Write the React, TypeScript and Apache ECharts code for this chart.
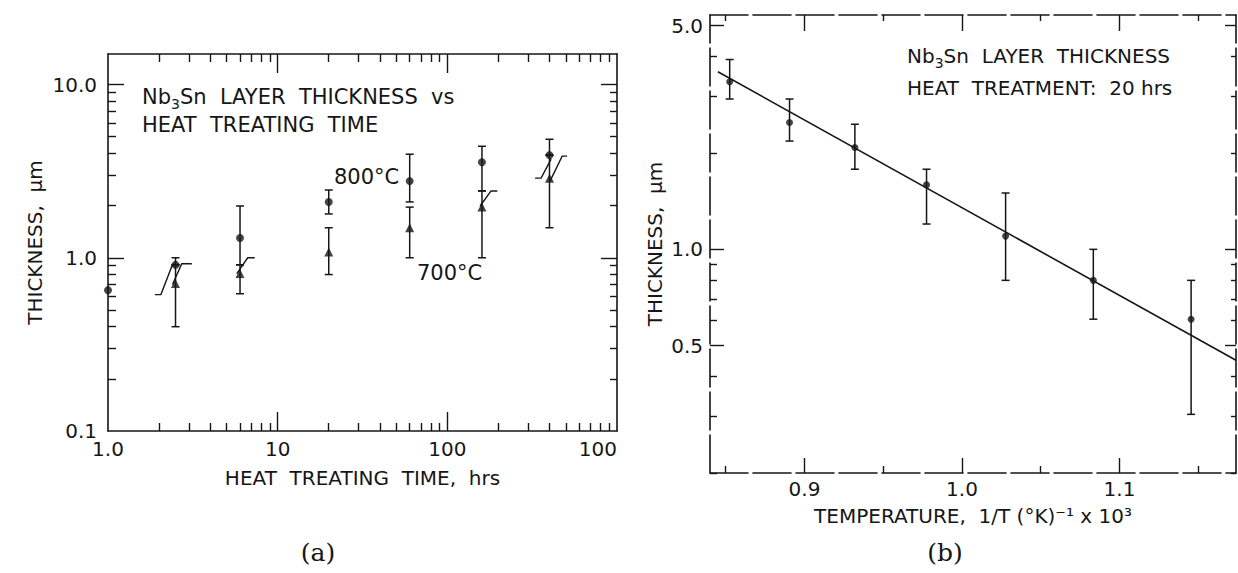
import React, { useEffect, useRef } from "react";
import * as echarts from "echarts";

// ---------- Panel (a): thickness vs heat treating time ----------
const timeTicksMajor = [1, 10, 100, 1000];
const timeTickLabels = ["1.0", "10", "100", "100"];
const timeTicksMinor = [2, 3, 4, 5, 6, 7, 8, 9, 20, 30, 40, 50, 60, 70, 80, 90, 200, 300, 400, 500, 600, 700, 800, 900];
const thickTicksMajorA = [0.1, 1, 10];
const thickTickLabelsA = ["0.1", "1.0", "10.0"];
const thickTicksMinorA = [0.2, 0.3, 0.4, 0.5, 0.6, 0.7, 0.8, 0.9, 2, 3, 4, 5, 6, 7, 8, 9];

const hours800 = [1, 2.5, 6, 20, 60, 160, 400];
const thick800 = [0.65, 0.91, 1.3, 2.1, 2.77, 3.56, 3.91];
const err800Lo = [null, 0.91, 0.91, 1.79, 2.1, 2.43, 3.91];
const err800Hi = [null, 1.0, 1.99, 2.46, 3.96, 4.4, 4.83];

const hours700 = [2.5, 6, 20, 60, 160, 400];
const thick700 = [0.71, 0.81, 1.08, 1.49, 1.96, 2.88];
const err700Lo = [0.4, 0.62, 0.8, 1.0, 1.0, 1.49];
const err700Hi = [0.91, 0.91, 1.49, 1.96, 2.43, 3.91];

// "/" break marks drawn next to some points: [x1, y1, x2, y2, x3, y3]
const slashMarks = [
  [1.89, 0.613, 2.05, 0.613, 2.41, 0.924],
  [2.4, 0.7, 2.72, 0.924, 3.12, 0.924],
  [5.74, 0.81, 6.66, 1.0, 7.32, 1.0],
  [156, 1.99, 181, 2.43, 197, 2.43],
  [329, 2.88, 357, 2.88, 409, 3.71],
  [403, 2.77, 475, 3.86, 508, 3.86],
];

// ---------- Panel (b): thickness vs 1/T ----------
const invTemp = [0.8525, 0.8905, 0.932, 0.9775, 1.0277, 1.0834, 1.1455];
const thickB = [3.34, 2.49, 2.08, 1.59, 1.1, 0.8, 0.605];
const errBLo = [2.95, 2.18, 1.78, 1.2, 0.8, 0.605, 0.305];
const errBHi = [3.92, 2.95, 2.46, 1.78, 1.5, 1.0, 0.8];
const fitX = [0.845, 1.174];
const fitY = [3.59, 0.45];
const invTempTicksMajor = [0.9, 1.0, 1.1];
const invTempTickLabels = ["0.9", "1.0", "1.1"];
const invTempTicksMinor = [0.85, 0.95, 1.05, 1.15];
const thickTicksMajorB = [0.5, 1, 5];
const thickTickLabelsB = ["0.5", "1.0", "5.0"];
const thickTicksMinorB = [0.2, 0.3, 0.4, 0.6, 0.7, 0.8, 0.9, 2, 3, 4];

const INK = "#161616";
const FF = "DejaVu Sans";

function labeller(values: number[], labels: string[]) {
  return (v: number) => {
    let best = 0;
    let bd = Infinity;
    values.forEach((t, i) => {
      const d = Math.abs(Math.log(v) - Math.log(t));
      if (d < bd) {
        bd = d;
        best = i;
      }
    });
    return bd < 0.01 ? labels[best] : "";
  };
}

function axis(
  dim: "x" | "y",
  grid: number,
  type: "log" | "value",
  min: number,
  max: number,
  position: string,
  ticks: number[],
  tickLen: number,
  showLine: boolean,
  dashed: boolean,
  labels?: { values: number[]; texts: string[]; margin: number; extra?: any },
  name?: { text: string; gap: number }
) {
  const a: any = {
    gridIndex: grid,
    type,
    min,
    max,
    position,
    splitLine: { show: false },
    axisLine: {
      show: showLine,
      onZero: false,
      lineStyle: { color: INK, width: 1.6, type: dashed ? [38, 5] : "solid" },
    },
    axisTick: {
      show: true,
      inside: true,
      length: tickLen,
      customValues: ticks,
      lineStyle: { color: INK, width: 1.4 },
    },
    axisLabel: { show: false },
  };
  if (labels) {
    a.axisLabel = {
      show: true,
      customValues: labels.values,
      formatter: labeller(labels.values, labels.texts),
      color: INK,
      fontSize: 20,
      fontFamily: FF,
      margin: labels.margin,
      ...(labels.extra || {}),
    };
  }
  if (name) {
    a.name = name.text;
    a.nameLocation = "middle";
    a.nameGap = name.gap;
    a.nameTextStyle = { color: INK, fontSize: 20, fontFamily: FF };
  }
  return a;
}

function errorBarSeries(xi: number, yi: number, rows: number[][], half: number) {
  return {
    type: "custom",
    xAxisIndex: xi,
    yAxisIndex: yi,
    data: rows,
    encode: { x: 0, y: [1, 2] },
    z: 2,
    silent: true,
    renderItem: (_p: any, api: any) => {
      const x = api.value(0);
      const lo = api.coord([x, api.value(1)]);
      const hi = api.coord([x, api.value(2)]);
      const st = { stroke: INK, lineWidth: 1.5 };
      return {
        type: "group",
        children: [
          { type: "line", shape: { x1: lo[0], y1: lo[1], x2: hi[0], y2: hi[1] }, style: st },
          { type: "line", shape: { x1: lo[0] - half, y1: lo[1], x2: lo[0] + half, y2: lo[1] }, style: st },
          { type: "line", shape: { x1: hi[0] - half, y1: hi[1], x2: hi[0] + half, y2: hi[1] }, style: st },
        ],
      };
    },
  };
}

function zip(a: number[], b: number[]) {
  return a.map((v, i) => [v, b[i]]);
}

export default function App() {
  const ref = useRef<HTMLDivElement>(null);
  useEffect(() => {
    if (!ref.current) return;
    const chart = echarts.init(ref.current, undefined, { renderer: "svg" });

    const rows800 = hours800
      .map((h, i) => (err800Lo[i] == null ? null : [h, err800Lo[i] as number, err800Hi[i] as number]))
      .filter((r) => r) as number[][];
    const rows700 = hours700.map((h, i) => [h, err700Lo[i], err700Hi[i]]);
    const rowsB = invTemp.map((t, i) => [t, errBLo[i], errBHi[i]]);

    const sub = { fontSize: 14, fontFamily: FF, fill: INK, verticalAlign: "bottom", lineHeight: 13 };

    const option: any = {
      animation: false,
      backgroundColor: "#ffffff",
      grid: [
        { left: 108, top: 54, width: 509, height: 377 },
        { left: 710, top: 15, width: 526, height: 458 },
      ],
      xAxis: [
        axis("x", 0, "log", 1, 1000, "bottom", [10, 100], 19, true, false,
          { values: timeTicksMajor, texts: timeTickLabels, margin: 8, extra: { alignMaxLabel: "right" } },
          { text: "HEAT  TREATING  TIME,  hrs", gap: 37 }),
        axis("x", 0, "log", 1, 1000, "bottom", timeTicksMinor, 8, false, false),
        axis("x", 0, "log", 1, 1000, "top", [10, 100], 19, true, false),
        axis("x", 0, "log", 1, 1000, "top", timeTicksMinor, 8, false, false),
        axis("x", 1, "value", 0.84, 1.174, "bottom", invTempTicksMajor, 15, true, true,
          { values: invTempTicksMajor, texts: invTempTickLabels, margin: 6 },
          { text: "TEMPERATURE,  1/T (°K)⁻¹ x 10³", gap: 33 }),
        axis("x", 1, "value", 0.84, 1.174, "bottom", invTempTicksMinor, 7, false, false),
        axis("x", 1, "value", 0.84, 1.174, "top", invTempTicksMajor, 16, true, true),
        axis("x", 1, "value", 0.84, 1.174, "top", invTempTicksMinor, 6, false, false),
      ],
      yAxis: [
        axis("y", 0, "log", 0.1, 15, "left", [1, 10], 16, true, false,
          { values: thickTicksMajorA, texts: thickTickLabelsA, margin: 11 },
          { text: "THICKNESS,  μm", gap: 63 }),
        axis("y", 0, "log", 0.1, 15, "left", thickTicksMinorA, 8, false, false),
        axis("y", 0, "log", 0.1, 15, "right", [1, 10], 16, true, false),
        axis("y", 0, "log", 0.1, 15, "right", thickTicksMinorA, 7, false, false),
        axis("y", 1, "log", 0.2, 5.4, "left", thickTicksMajorB, 14, true, true,
          { values: thickTicksMajorB, texts: thickTickLabelsB, margin: 7 },
          { text: "THICKNESS,  μm", gap: 45 }),
        axis("y", 1, "log", 0.2, 5.4, "left", thickTicksMinorB, 7, false, false),
        axis("y", 1, "log", 0.2, 5.4, "right", thickTicksMajorB, 11, true, true),
        axis("y", 1, "log", 0.2, 5.4, "right", thickTicksMinorB, 5, false, false),
      ],
      series: [
        errorBarSeries(0, 0, rows800, 4),
        errorBarSeries(0, 0, rows700, 4),
        {
          type: "custom",
          xAxisIndex: 0,
          yAxisIndex: 0,
          data: slashMarks,
          encode: { x: [0, 2, 4], y: [1, 3, 5] },
          silent: true,
          renderItem: (_p: any, api: any) => {
            const pts = [0, 2, 4].map((k) => api.coord([api.value(k), api.value(k + 1)]));
            return { type: "polyline", shape: { points: pts }, style: { stroke: INK, lineWidth: 1.4, fill: "none" } };
          },
        },
        {
          type: "scatter",
          xAxisIndex: 0,
          yAxisIndex: 0,
          data: zip(hours800, thick800),
          symbol: "circle",
          symbolSize: 8,
          itemStyle: { color: INK },
          z: 3,
        },
        {
          type: "scatter",
          xAxisIndex: 0,
          yAxisIndex: 0,
          data: zip(hours700, thick700),
          symbol: "triangle",
          symbolSize: 9,
          itemStyle: { color: INK },
          z: 3,
        },
        errorBarSeries(4, 4, rowsB, 4),
        {
          type: "line",
          xAxisIndex: 4,
          yAxisIndex: 4,
          data: zip(fitX, fitY),
          showSymbol: false,
          symbol: "none",
          lineStyle: { color: INK, width: 1.6 },
          z: 2,
        },
        {
          type: "scatter",
          xAxisIndex: 4,
          yAxisIndex: 4,
          data: zip(invTemp, thickB),
          symbol: "circle",
          symbolSize: 7,
          itemStyle: { color: INK },
          z: 3,
        },
      ],
      graphic: [
        {
          type: "text",
          x: 142,
          y: 97,
          style: {
            text: "Nb{s|3}Sn  LAYER  THICKNESS  vs",
            rich: { s: sub },
            fontSize: 21,
            fontFamily: FF,
            fill: INK,
            lineHeight: 28,
            align: "left",
            verticalAlign: "middle",
          },
        },
        {
          type: "text",
          x: 142,
          y: 125,
          style: { text: "HEAT  TREATING  TIME", fontSize: 21, fontFamily: FF, fill: INK, align: "left", verticalAlign: "middle" },
        },
        {
          type: "text",
          x: 334,
          y: 177,
          style: { text: "800°C", fontSize: 21, fontFamily: FF, fill: INK, align: "left", verticalAlign: "middle" },
        },
        {
          type: "text",
          x: 417,
          y: 273,
          style: { text: "700°C", fontSize: 21, fontFamily: FF, fill: INK, align: "left", verticalAlign: "middle" },
        },
        {
          type: "text",
          x: 907,
          y: 56,
          style: {
            text: "Nb{s|3}Sn  LAYER  THICKNESS",
            rich: { s: sub },
            fontSize: 20,
            fontFamily: FF,
            fill: INK,
            lineHeight: 28,
            align: "left",
            verticalAlign: "middle",
          },
        },
        {
          type: "text",
          x: 907,
          y: 88,
          style: { text: "HEAT  TREATMENT:  20 hrs", fontSize: 20, fontFamily: FF, fill: INK, align: "left", verticalAlign: "middle" },
        },
        {
          type: "text",
          x: 318,
          y: 552,
          style: { text: "(a)", fontSize: 25, fontFamily: "DejaVu Serif", fill: INK, align: "center", verticalAlign: "middle" },
        },
        {
          type: "text",
          x: 945,
          y: 552,
          style: { text: "(b)", fontSize: 25, fontFamily: "DejaVu Serif", fill: INK, align: "center", verticalAlign: "middle" },
        },
      ],
    };
    chart.setOption(option);
    return () => chart.dispose();
  }, []);
  return (
    <div
      ref={ref}
      style={{ position: "absolute", left: 0, top: 0, width: 1238, height: 573, background: "#fff" }}
    />
  );
}
